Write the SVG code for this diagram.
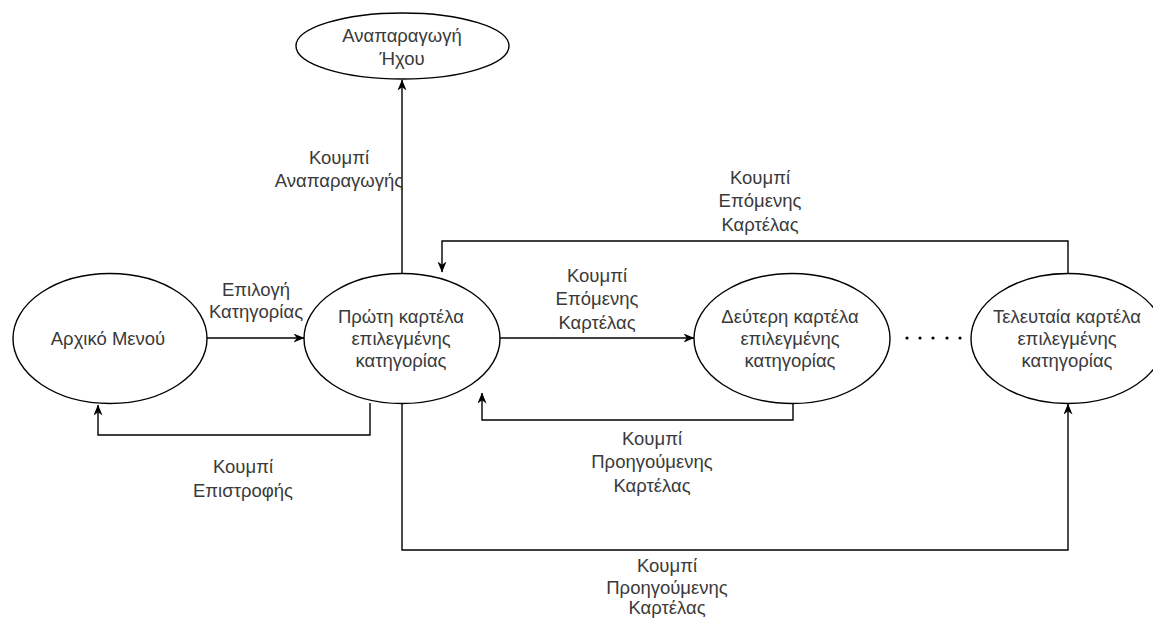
<svg xmlns="http://www.w3.org/2000/svg" width="1153" height="620" viewBox="0 0 1153 620">
<defs>
<style>
.node ellipse{fill:#fff;stroke:#000;stroke-width:1.4}
.lbl{font-family:"Liberation Sans",Arial,sans-serif;font-size:18.5px;fill:#3a3a3a;text-anchor:middle;dominant-baseline:central}
.edge{fill:none;stroke:#000;stroke-width:1.4}
</style>
<marker id="arr" viewBox="0 0 11 9" refX="10.5" refY="4.5" markerWidth="11" markerHeight="9" markerUnits="userSpaceOnUse" orient="auto">
<path d="M0,0 L11,4.5 L0,9 L3.3,4.5 Z" fill="#000"/>
</marker>
</defs>
<rect width="1153" height="620" fill="#fff"/>
<g id="connectors">
<path class="edge" d="M207,338 H304" marker-end="url(#arr)"/>
<path class="edge" d="M370,403 V435 H98 V405" marker-end="url(#arr)"/>
<path class="edge" d="M402,273 V80" marker-end="url(#arr)"/>
<path class="edge" d="M500,338 H694" marker-end="url(#arr)"/>
<path class="edge" d="M793,403 V420 H482 V393" marker-end="url(#arr)"/>
<path class="edge" d="M1068,273 V241 H442 V272" marker-end="url(#arr)"/>
<path class="edge" d="M402,403 V550 H1068 V404" marker-end="url(#arr)"/>
<g fill="#000">
<circle cx="907" cy="338" r="1.6"/><circle cx="920" cy="338" r="1.6"/><circle cx="933" cy="338" r="1.6"/><circle cx="947" cy="338" r="1.6"/><circle cx="960" cy="338" r="1.6"/>
</g>
<text class="lbl" x="256" y="289">Επιλογή</text>
<text class="lbl" x="256" y="311">Κατηγορίας</text>
<text class="lbl" x="339" y="157">Κουμπί</text>
<text class="lbl" x="339" y="180">Αναπαραγωγής</text>
<text class="lbl" x="243" y="466">Κουμπί</text>
<text class="lbl" x="243" y="490">Επιστροφής</text>
<text class="lbl" x="597" y="275">Κουμπί</text>
<text class="lbl" x="597" y="298">Επόμενης</text>
<text class="lbl" x="597" y="322">Καρτέλας</text>
<text class="lbl" x="760" y="177">Κουμπί</text>
<text class="lbl" x="760" y="200">Επόμενης</text>
<text class="lbl" x="760" y="224">Καρτέλας</text>
<text class="lbl" x="652" y="438">Κουμπί</text>
<text class="lbl" x="652" y="461">Προηγούμενης</text>
<text class="lbl" x="652" y="485">Καρτέλας</text>
<text class="lbl" x="667" y="565">Κουμπί</text>
<text class="lbl" x="667" y="587">Προηγούμενης</text>
<text class="lbl" x="667" y="607">Καρτέλας</text>
</g>
<g id="node-sound" class="node">
<ellipse cx="402.5" cy="46" rx="106.5" ry="33"/>
<text class="lbl" x="402" y="35">Αναπαραγωγή</text>
<text class="lbl" x="402" y="58">Ήχου</text>
</g>
<g id="node-menu" class="node">
<ellipse cx="110" cy="338.5" rx="97" ry="65"/>
<text class="lbl" x="108" y="338">Αρχικό Μενού</text>
</g>
<g id="node-first" class="node">
<ellipse cx="402" cy="338.5" rx="98" ry="65"/>
<text class="lbl" x="401" y="316">Πρώτη καρτέλα</text>
<text class="lbl" x="401" y="338">επιλεγμένης</text>
<text class="lbl" x="401" y="360">κατηγορίας</text>
</g>
<g id="node-second" class="node">
<ellipse cx="792" cy="338.5" rx="98" ry="65"/>
<text class="lbl" x="790" y="316">Δεύτερη καρτέλα</text>
<text class="lbl" x="790" y="338">επιλεγμένης</text>
<text class="lbl" x="790" y="360">κατηγορίας</text>
</g>
<g id="node-last" class="node">
<ellipse cx="1068" cy="338.5" rx="97" ry="65"/>
<text class="lbl" x="1067" y="316">Τελευταία καρτέλα</text>
<text class="lbl" x="1067" y="338">επιλεγμένης</text>
<text class="lbl" x="1067" y="360">κατηγορίας</text>
</g>
</svg>
